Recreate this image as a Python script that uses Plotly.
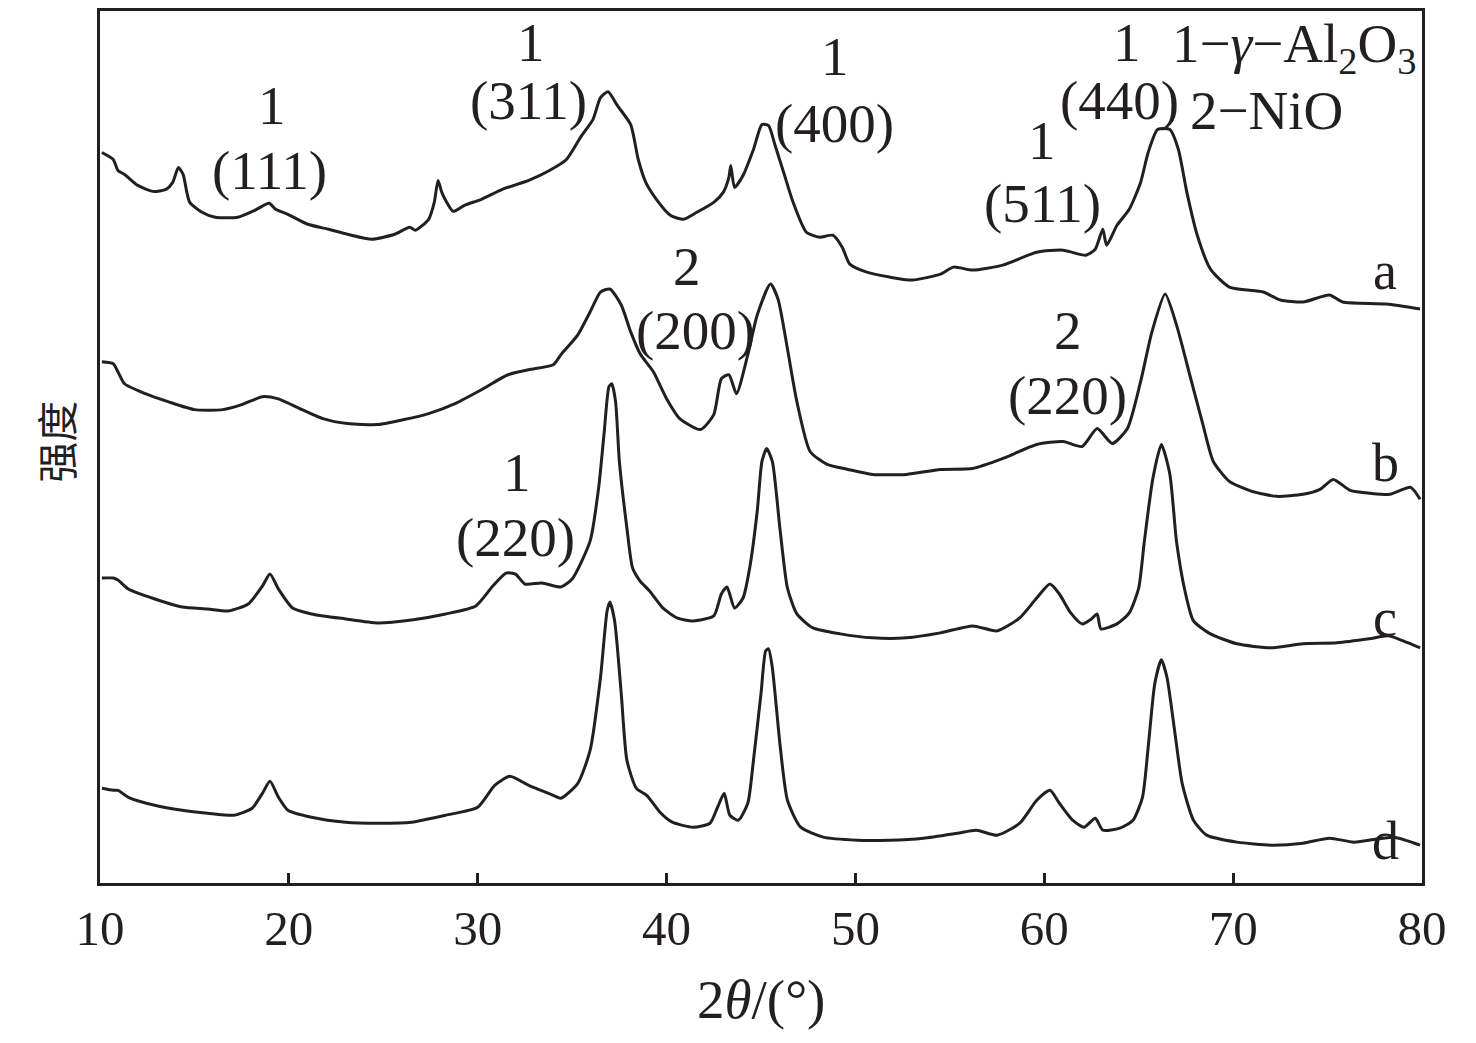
import plotly.graph_objects as go

# XRD patterns, intensity in arbitrary units (curves offset as in the figure)
two_theta_a = [10.1, 10.7, 10.95, 11.3, 12.0, 12.8, 13.5, 13.85, 14.15, 14.4, 14.6, 14.75, 15.4, 16.1,
               17.3, 18.2, 18.95, 19.3, 19.95, 21.0, 22.1, 23.1, 24.4, 25.6, 26.4, 26.7, 27.4, 27.7,
               27.9, 28.1, 28.3, 28.7, 29.3, 30.2, 31.3, 32.7, 33.8, 34.7, 35.5, 36.1, 36.5, 36.9,
               37.4, 38.1, 38.5, 38.9, 39.5, 40.2, 40.9, 41.6, 42.5, 43.0, 43.3, 43.4, 43.6, 44.05,
               44.6, 45.05, 45.4, 45.75, 46.2, 46.7, 47.4, 48.1, 48.8, 49.3, 49.7, 50.6, 51.8, 53.0,
               54.5, 55.2, 56.2, 57.8, 59.6, 61.0, 62.2, 62.7, 63.1, 63.3, 63.85, 64.5, 65.1, 65.5,
               66.0, 66.65, 67.1, 67.55, 68.1, 68.8, 69.8, 71.6, 72.5, 73.7, 75.1, 75.8, 78.1, 79.9]
intensity_a = [733, 726, 715, 711, 700, 694, 696, 703, 718, 711, 693, 683, 673, 668,
               668, 675, 682, 676, 671, 661, 656, 651, 646, 651, 658, 655, 666, 683,
               705, 693, 685, 674, 680, 686, 696, 705, 715, 726, 750, 766, 788, 794,
               780, 761, 726, 703, 685, 670, 666, 673, 683, 693, 708, 720, 698, 710,
               736, 761, 760, 740, 713, 683, 653, 648, 650, 638, 621, 613, 608, 605,
               611, 618, 615, 620, 633, 635, 630, 636, 656, 640, 660, 676, 703, 733,
               756, 756, 736, 693, 650, 616, 598, 593, 585, 583, 590, 583, 581, 576]

two_theta_b = [10.1, 10.7, 10.95, 11.3, 12.4, 13.6, 15.0, 16.5, 17.5, 18.6, 19.4, 20.7, 21.8, 23.1,
               24.7, 26.1, 27.4, 28.8, 30.2, 31.6, 32.7, 34.0, 34.4, 35.3, 35.95, 36.5, 37.0, 37.6,
               38.1, 38.6, 39.3, 40.0, 40.7, 41.8, 42.5, 42.9, 43.3, 43.7, 44.3, 44.8, 45.5, 45.9,
               46.4, 46.9, 47.6, 48.5, 49.6, 50.9, 52.7, 54.5, 56.2, 57.8, 59.6, 61.0, 62.0, 62.8,
               63.6, 64.4, 65.1, 65.7, 66.4, 67.0, 67.7, 68.4, 68.95, 69.8, 71.0, 72.3, 73.7, 74.6,
               75.3, 76.2, 77.3, 78.3, 79.4, 79.9]
intensity_b = [523, 521, 513, 501, 491, 483, 475, 475, 480, 488, 486, 475, 466, 461,
               460, 465, 471, 481, 495, 510, 515, 520, 530, 550, 573, 593, 596, 580,
               553, 531, 513, 486, 466, 455, 470, 506, 510, 491, 530, 570, 601, 586,
               536, 483, 433, 420, 415, 410, 410, 415, 416, 426, 440, 443, 438, 456,
               441, 456, 503, 553, 591, 560, 510, 460, 423, 403, 393, 388, 390, 395,
               405, 394, 391, 390, 397, 385]

two_theta_c = [10.1, 10.7, 10.95, 11.5, 12.9, 14.35, 15.7, 16.8, 17.85, 18.6, 19.0, 19.45, 20.2,
               21.2, 23.0, 24.7, 26.5, 28.3, 29.9, 30.8, 31.5, 32.0, 32.5, 33.4, 34.4, 35.0, 35.95,
               36.4, 36.7, 36.95, 37.1, 37.3, 37.5, 37.9, 38.2, 38.6, 39.1, 39.8, 40.55, 41.4, 42.5,
               42.9, 43.2, 43.6, 44.05, 44.4, 44.8, 45.05, 45.3, 45.6, 46.0, 46.4, 46.9, 47.75, 49.2,
               50.9, 52.7, 54.5, 56.2, 57.5, 58.7, 59.6, 60.3, 60.8, 61.4, 62.0, 62.5, 62.8, 63.0,
               63.85, 64.5, 65.0, 65.3, 65.75, 66.2, 66.65, 67.0, 67.45, 67.9, 68.8, 70.2, 72.0,
               73.7, 75.5, 77.2, 78.2, 79.0, 79.9]
intensity_c = [306, 306, 304, 295, 285, 277, 275, 273, 280, 298, 310, 295, 276,
               270, 265, 261, 264, 270, 278, 298, 311, 310, 300, 301, 297, 305, 343,
               396, 453, 498, 501, 483, 423, 356, 316, 303, 293, 276, 266, 263, 268,
               290, 297, 276, 286, 316, 373, 423, 436, 423, 356, 296, 270, 256, 250,
               246, 246, 251, 258, 253, 266, 286, 300, 290, 271, 260, 265, 270, 255,
               260, 271, 296, 343, 406, 440, 410, 343, 293, 263, 250, 240, 236,
               240, 241, 245, 248, 243, 236]

two_theta_d = [10.1, 10.7, 10.95, 11.5, 12.9, 14.35, 15.7, 17.1, 18.05, 18.6, 19.0, 19.45, 19.95,
               21.2, 23.0, 24.7, 26.5, 28.3, 30.0, 30.9, 31.7, 32.7, 34.0, 34.4, 35.3, 35.95, 36.5,
               36.85, 37.0, 37.25, 37.6, 37.9, 38.4, 38.95, 39.65, 40.3, 41.4, 42.3, 42.7, 43.05,
               43.35, 43.8, 44.3, 44.6, 45.0, 45.25, 45.4, 45.6, 46.0, 46.4, 47.1, 48.3, 50.1, 51.8,
               53.6, 55.4, 56.4, 57.5, 58.7, 59.6, 60.3, 60.8, 61.5, 62.1, 62.7, 63.1, 64.0, 64.7,
               65.2, 65.5, 65.85, 66.2, 66.5, 66.9, 67.3, 67.9, 68.6, 70.2, 72.0, 73.7, 75.1, 76.4,
               78.5, 79.9]
intensity_d = [95, 93, 93, 86, 78, 73, 70, 68, 75, 90, 102, 86, 73,
               66, 61, 60, 61, 68, 76, 98, 107, 98, 88, 85, 100, 133, 206,
               273, 282, 263, 190, 123, 95, 88, 71, 61, 56, 60, 76, 90,
               68, 63, 80, 123, 190, 233, 235, 216, 140, 83, 56, 46, 43, 43,
               45, 50, 53, 48, 60, 83, 93, 80, 63, 56, 65, 53, 55, 63,
               86, 136, 200, 224, 206, 153, 100, 63, 48, 41, 38, 40, 45, 41,
               46, 38]

# peak labels: phase number above, Miller index below
phase_nums = ["1", "1", "1", "1", "1", "2", "2", "1"]
phase_num_x = [19.1, 32.8, 48.9, 59.9, 64.4, 41.1, 61.25, 32.1]
phase_num_y = [780, 843, 829, 745, 843, 619, 554, 412]
miller = ["(111)", "(311)", "(400)", "(511)", "(440)", "(200)", "(220)", "(220)"]
miller_x = [19.0, 32.7, 48.9, 59.9, 64.0, 41.55, 61.25, 32.0]
miller_y = [715, 785, 762, 682, 785, 554, 489, 347]

curve_names = ["a", "b", "c", "d"]
curve_label_y = [614, 421, 266, 42]

key_texts = ["1−<i>γ</i>−Al<sub>2</sub>O<sub>3</sub>", "2−NiO"]
key_x = [66.65, 67.6]
key_y = [838, 775]

SERIF = "Liberation Serif, Times New Roman, serif"
INK = "#231f20"

fig = go.Figure()
for xs, ys, name in [(two_theta_a, intensity_a, "a"), (two_theta_b, intensity_b, "b"),
                     (two_theta_c, intensity_c, "c"), (two_theta_d, intensity_d, "d")]:
    fig.add_trace(go.Scatter(x=xs, y=ys, mode="lines", name=name,
                             line=dict(color=INK, width=3, shape="spline", smoothing=0.6),
                             showlegend=False))

for txt, x, y in zip(phase_nums + miller, phase_num_x + miller_x, phase_num_y + miller_y):
    fig.add_annotation(x=x, y=y, text=txt, showarrow=False,
                       font=dict(family=SERIF, size=55, color=INK))

for name, y in zip(curve_names, curve_label_y):
    fig.add_annotation(x=78.05, y=y, text=name, showarrow=False,
                       font=dict(family=SERIF, size=54, color=INK))

# phase key in the top right corner
for txt, x, y in zip(key_texts, key_x, key_y):
    fig.add_annotation(x=x, y=y, text=txt, showarrow=False, xanchor="left",
                       font=dict(family=SERIF, size=55, color=INK))

# axis titles
fig.add_annotation(x=0.5, y=-0.1337, xref="paper", yref="paper", text="2<i>θ</i>/(°)",
                   xanchor="center", yanchor="middle", showarrow=False,
                   font=dict(family=SERIF, size=55, color=INK))
fig.add_annotation(x=-0.034, y=0.506, xref="paper", yref="paper", text="强度", textangle=-90,
                   xanchor="center", yanchor="middle", showarrow=False,
                   font=dict(family="Noto Sans CJK SC", size=41, color=INK))

fig.update_layout(
    width=1460, height=1027,
    plot_bgcolor="white", paper_bgcolor="white",
    margin=dict(l=92, r=46, t=0, b=152),
    font=dict(family=SERIF, color=INK),
)
fig.update_xaxes(
    range=[10, 80], dtick=10, showgrid=False, zeroline=False,
    showline=True, linecolor=INK, linewidth=3, mirror=True,
    ticks="inside", ticklen=10, tickwidth=2.5, tickcolor=INK,
    tickfont=dict(family=SERIF, size=49, color=INK), ticklabelstandoff=0,
)
fig.update_yaxes(
    range=[0, 875], showgrid=False, zeroline=False, showticklabels=False, ticks="",
    showline=True, linecolor=INK, linewidth=3, mirror=True,
)

fig.write_html("out.html")
